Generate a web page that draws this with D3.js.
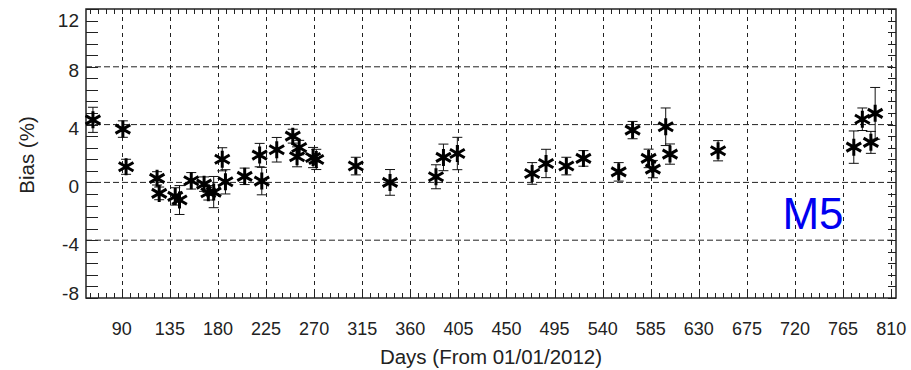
<!DOCTYPE html>
<html><head><meta charset="utf-8">
<script src="https://cdn.jsdelivr.net/npm/d3@7"></script>
<style>html,body{margin:0;padding:0;background:#fff;}svg{display:block;}</style>
</head><body>
<svg id="chart" width="911" height="370"></svg>
<script>
const days = [63, 91, 94, 123, 125, 140, 144, 155, 167, 171, 176, 184, 187, 205, 221, 219, 235, 250, 256, 254, 269, 272, 309, 341, 384, 391, 404, 474, 487, 506, 522, 555, 568, 583, 587, 599, 603, 648, 775, 783, 791, 795];
const bias = [4.33, 3.69, 1.08, 0.28, -0.76, -0.97, -1.22, 0.11, -0.12, -0.72, -0.67, 1.6, 0.04, 0.42, 0.09, 1.89, 2.26, 3.2, 2.41, 1.77, 1.72, 1.59, 1.13, 0, 0.39, 1.73, 2.0, 0.62, 1.31, 1.13, 1.66, 0.73, 3.62, 1.66, 0.92, 3.85, 1.96, 2.19, 2.44, 4.37, 2.77, 4.78];
const errs = [0.87, 0.57, 0.52, 0.46, 0.44, 0.6, 1.0, 0.57, 0.5, 0.5, 1.08, 0.8, 0.84, 0.57, 0.95, 0.81, 0.85, 0.48, 0.5, 0.69, 0.7, 0.7, 0.61, 0.89, 0.83, 0.92, 1.12, 0.75, 0.98, 0.61, 0.54, 0.64, 0.6, 0.64, 0.6, 1.3, 0.7, 0.7, 1.12, 0.78, 0.76, 1.79];
const xTicks = [90, 135, 180, 225, 270, 315, 360, 405, 450, 495, 540, 585, 630, 675, 720, 765, 810];
const yTicks = [-8, -4, 0, 4, 8, 12];
const xDomain = [56.5, 814.5];
const yDomain = [-8, 12];
const xMinorStep = 7.5;
const yMinorStep = 0.8;
const xTitle = "Days (From 01/01/2012)";
const yTitle = "Bias (%)";
const panelLabel = "M5";

const svg = d3.select("#chart");
const L = 86, R = 896, T = 9, B = 298;
const x = d3.scaleLinear().domain(xDomain).range([L, R]);
const y = d3.scaleLinear().domain(yDomain).range([B, T]);
const ink = "#222";
const font = "'Liberation Sans', Arial, sans-serif";

// grid
const g = svg.append("g");
g.selectAll("line.hg").data(yTicks.filter(v => v > yDomain[0] && v < yDomain[1])).join("line")
  .attr("x1", L).attr("x2", R).attr("y1", d => y(d)).attr("y2", d => y(d))
  .attr("stroke", ink).attr("stroke-width", 1).attr("stroke-dasharray", "6,3");
g.selectAll("line.vg").data(xTicks).join("line")
  .attr("x1", d => Math.round(x(d)) + 0.5).attr("x2", d => Math.round(x(d)) + 0.5).attr("y1", T).attr("y2", B)
  .attr("stroke", ink).attr("stroke-width", 1).attr("stroke-dasharray", "4,4");

// minor ticks
const xMinor = d3.range(Math.ceil(xDomain[0] / xMinorStep) * xMinorStep, xDomain[1], xMinorStep);
const yMinor = d3.range(yDomain[0], yDomain[1] + 0.001, yMinorStep);
const ax = svg.append("g").attr("stroke", ink).attr("stroke-width", 1);
ax.selectAll("line.bt").data(xMinor).join("line")
  .attr("x1", d => Math.round(x(d)) + 0.5).attr("x2", d => Math.round(x(d)) + 0.5).attr("y1", B).attr("y2", B - 5);
ax.selectAll("line.tt").data(xMinor).join("line")
  .attr("x1", d => Math.round(x(d)) + 0.5).attr("x2", d => Math.round(x(d)) + 0.5).attr("y1", T).attr("y2", T + 5);
ax.selectAll("line.lt").data(yMinor).join("line")
  .attr("x1", L).attr("x2", L + 12).attr("y1", d => Math.round(y(d)) + 0.5).attr("y2", d => Math.round(y(d)) + 0.5);
ax.selectAll("line.rt").data(yMinor).join("line")
  .attr("x1", R).attr("x2", R - 8).attr("y1", d => Math.round(y(d)) + 0.5).attr("y2", d => Math.round(y(d)) + 0.5);

// frame
svg.append("rect").attr("x", L).attr("y", T).attr("width", R - L).attr("height", B - T)
  .attr("fill", "none").attr("stroke", ink).attr("stroke-width", 1.5);

// tick labels
svg.append("g").selectAll("text").data(xTicks).join("text")
  .attr("x", d => x(d)).attr("y", 335).attr("text-anchor", "middle")
  .attr("font-family", font).attr("font-size", 18).attr("fill", ink).text(d => d);
svg.append("g").selectAll("text").data(yTicks).join("text")
  .attr("x", 79).attr("y", d => Math.max(T + 11, Math.min(B - 5, y(d) + 4)) + 6.5)
  .attr("text-anchor", "end")
  .attr("font-family", font).attr("font-size", 19).attr("fill", ink).text(d => d);

// titles
svg.append("text").attr("x", (L + R) / 2).attr("y", 364).attr("text-anchor", "middle")
  .attr("font-family", font).attr("font-size", 20.5).attr("fill", ink).text(xTitle);
svg.append("text").attr("transform", "translate(34,155) rotate(-90)").attr("text-anchor", "middle")
  .attr("font-family", font).attr("font-size", 20.5).attr("fill", ink).text(yTitle);

// error bars
const pts = days.map((d, i) => ({d, v: bias[i], e: errs[i]}));
const eb = svg.append("g").attr("stroke", "#111").attr("stroke-width", 1);
pts.forEach(p => {
  const cx = x(p.d), y1 = y(p.v + p.e), y2 = y(p.v - p.e);
  eb.append("line").attr("x1", cx).attr("x2", cx).attr("y1", y1).attr("y2", y2);
  eb.append("line").attr("x1", cx - 5).attr("x2", cx + 5).attr("y1", y1).attr("y2", y1);
  eb.append("line").attr("x1", cx - 5).attr("x2", cx + 5).attr("y1", y2).attr("y2", y2);
});

// asterisk markers
const r = 8.5, a = r * Math.cos(Math.PI / 6), b = r * Math.sin(Math.PI / 6);
svg.append("g").selectAll("path").data(pts).join("path")
  .attr("d", p => {
    const cx = x(p.d), cy = y(p.v);
    return `M${cx},${cy - r}L${cx},${cy + r}M${cx - a},${cy - b}L${cx + a},${cy + b}M${cx - a},${cy + b}L${cx + a},${cy - b}`;
  })
  .attr("stroke", "#000").attr("stroke-width", 3).attr("fill", "none");

// panel label
svg.append("text").attr("x", 813).attr("y", 229).attr("text-anchor", "middle")
  .attr("font-family", font).attr("font-size", 44).attr("fill", "#0000f0").text(panelLabel);
</script>
</body></html>
